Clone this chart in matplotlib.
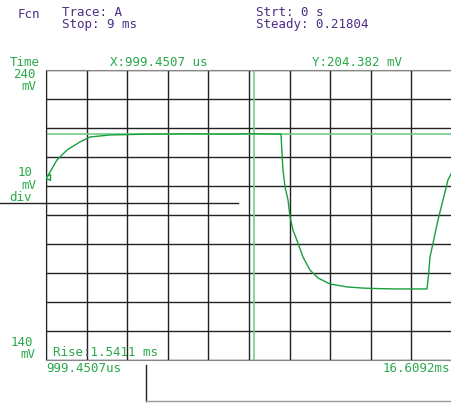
import numpy as np
import matplotlib.pyplot as plt
from matplotlib.lines import Line2D

# trace (time in ms, level in mV)
t_ms = [1.038, 1.153, 1.422, 1.807, 2.307, 2.691, 3.460, 4.998, 6.5, 8.0, 9.0,
        10.035, 10.073, 10.112, 10.189, 10.304, 10.381, 10.496, 10.688, 10.881,
        11.150, 11.457, 11.919, 12.573, 13.187, 13.841, 14.495, 15.072, 15.648,
        15.687, 15.764, 15.879, 16.071, 16.263, 16.455, 16.609]
v_mv = [203.1, 204.8, 209.0, 212.4, 215.2, 216.9, 217.6, 217.9, 218.0, 217.9, 218.0,
        217.9, 211.4, 205.5, 199.7, 195.2, 189.3, 184.8, 180.3, 175.5,
        171.0, 168.3, 166.2, 165.2, 164.8, 164.6, 164.5, 164.5, 164.5,
        167.6, 175.5, 180.3, 188.3, 195.2, 202.1, 204.8]

x_start, x_end = 0.9995, 16.6092
y_top, y_bot = 240, 140
cursor_x = 9.0
cursor_y = 218.04

W, H = 452, 403
green = '#1a9e3c'
light = '#6fcf8a'
txtgreen = '#2aa84a'
purple = '#4b2d86'

plt.rcParams['font.family'] = 'DejaVu Sans Mono'

fig = plt.figure(figsize=(W / 100, H / 100), dpi=100)
ax = fig.add_axes([46 / W, (H - 360) / H, 406 / W, 290 / H])

ax.axhline(cursor_y, color=light, lw=1.2, zorder=2)
ax.axvline(cursor_x, color=light, lw=1.2, zorder=2)
ax.plot(t_ms, v_mv, color=green, lw=1.0, zorder=3,
        marker='<', markevery=[0], markersize=5, mfc='none', mec=green)

ax.set_xlim(x_start, x_end)
ax.set_ylim(y_bot, y_top)
ax.set_xticks(np.linspace(x_start, x_end, 11))
ax.set_yticks(np.linspace(y_bot, y_top, 11))
ax.tick_params(length=0, labelbottom=False, labelleft=False)
ax.grid(True, color='#222222', lw=1.0)
ax.set_axisbelow(True)
for s in ['top', 'bottom']:
    ax.spines[s].set_color('#888888')
ax.spines['left'].set_color('#222222')
ax.spines['right'].set_visible(False)


def px(x, y, s, color, ha='left'):
    fig.text(x / W, 1 - y / H, s, color=color, ha=ha, va='center', fontsize=9)


px(18, 14, 'Fcn', purple)
px(62, 12.5, 'Trace: A', purple)
px(62, 24.5, 'Stop: 9 ms', purple)
px(256, 12.5, 'Strt: 0 s', purple)
px(256, 24.5, 'Steady: 0.21804', purple)

px(40, 63, 'Time', txtgreen, 'right')
px(110, 63, 'X:999.4507 us', txtgreen)
px(312, 63, 'Y:204.382 mV', txtgreen)
px(36, 75, '240', txtgreen, 'right')
px(36, 87, 'mV', txtgreen, 'right')
px(33, 172.5, '10', txtgreen, 'right')
px(36, 185.5, 'mV', txtgreen, 'right')
px(9, 197.5, 'div', txtgreen)
px(33, 342, '140', txtgreen, 'right')
px(35, 355, 'mV', txtgreen, 'right')
px(53, 352, 'Rise:1.5411 ms', txtgreen)
px(46, 368, '999.4507us', txtgreen)
px(450, 368, '16.6092ms', txtgreen, 'right')

fig.add_artist(Line2D([0, 238 / W], [1 - 203 / H] * 2, color='#222222', lw=1))
fig.add_artist(Line2D([146 / W] * 2, [1 - 365 / H, 1 - 401 / H], color='#222222', lw=1))
fig.add_artist(Line2D([146 / W, 1], [1 - 401 / H] * 2, color='#999999', lw=1))

fig.savefig('out.png', dpi=100)
